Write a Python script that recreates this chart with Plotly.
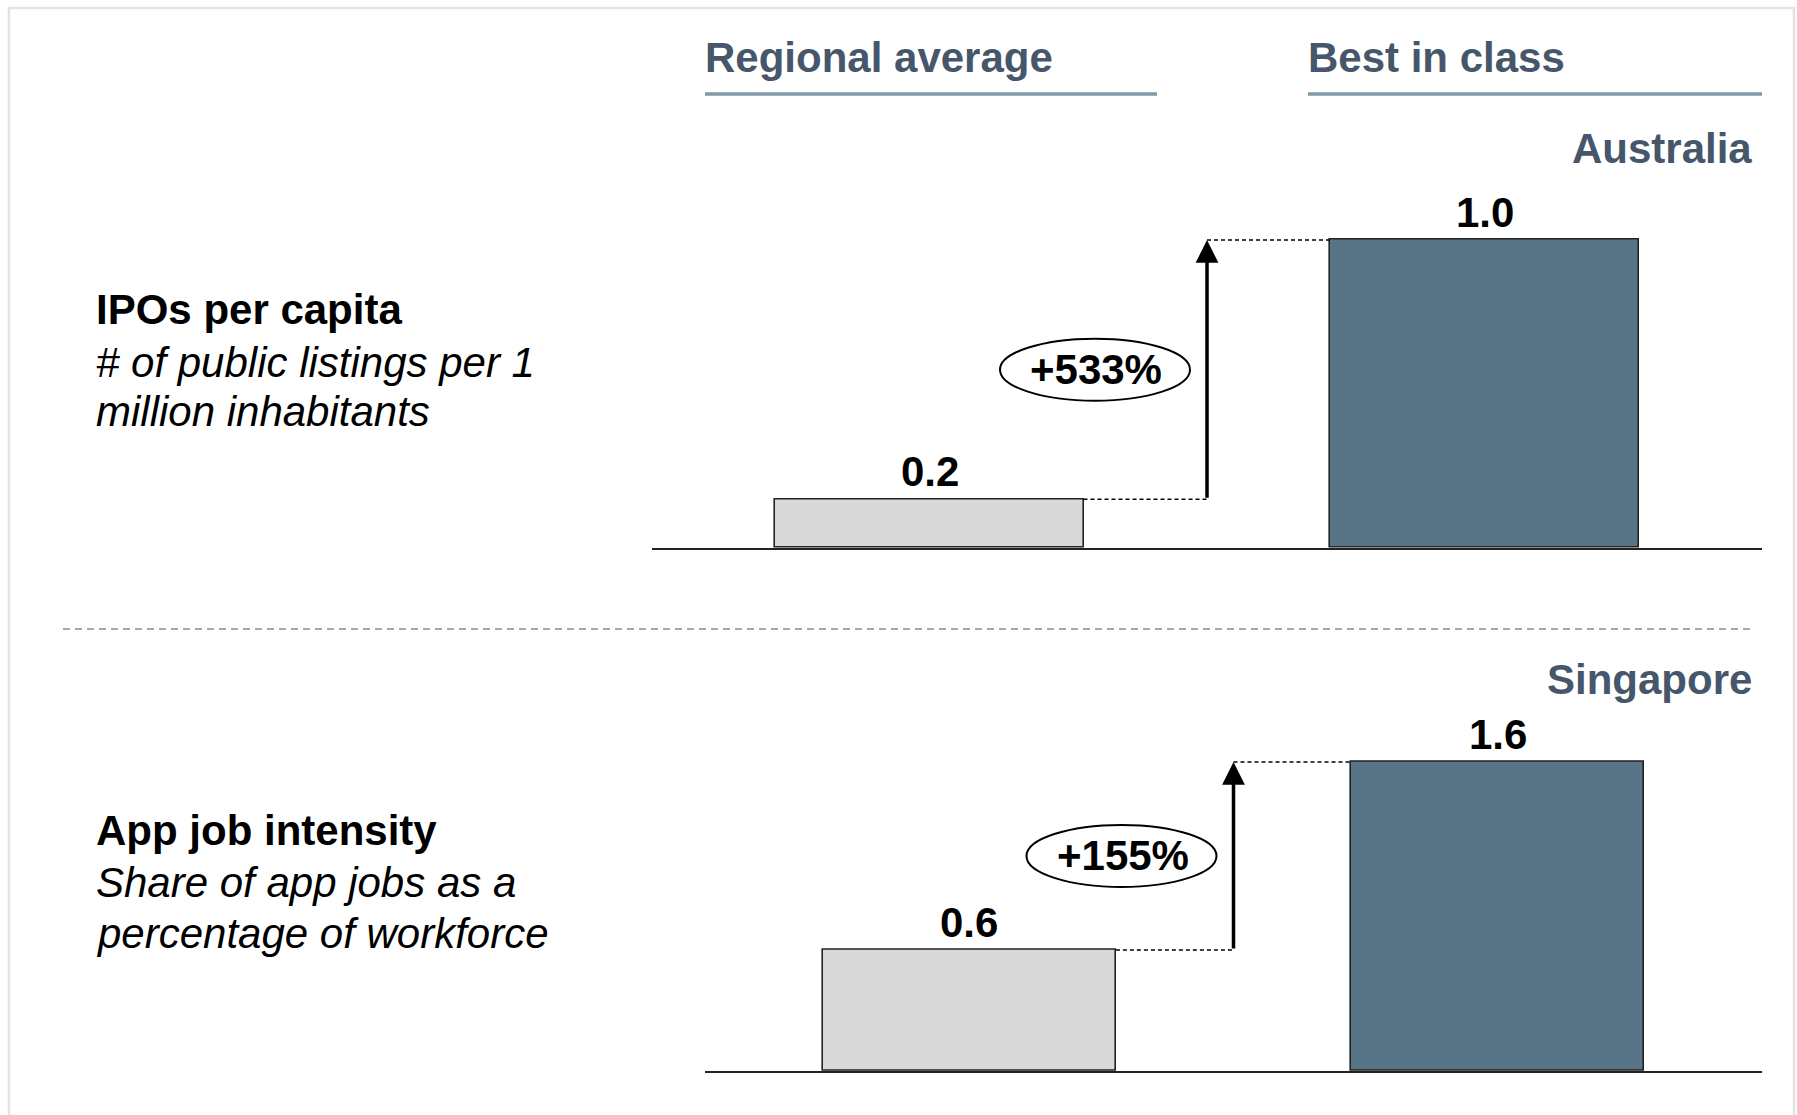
import plotly.graph_objects as go

# ---------------- data ----------------
columns = ["Regional average", "Best in class"]
metrics = ["IPOs per capita", "App job intensity"]
metric_notes = [["# of public listings per 1", "million inhabitants"],
                ["Share of app jobs as a", "percentage of workforce"]]
best_countries = ["Australia", "Singapore"]
regional_values = [0.158, 0.627]
best_values = [1.0, 1.6]
increase_labels = ["+533%", "+155%"]

# ---------------- styles ----------------
FONT = "Liberation Sans, Arial, sans-serif"
HEAD_COLOR = "#46566B"
RULE_COLOR = "#7F99A8"
BAR_COLORS = ["#D9D9D9", "#587487"]
FS = 42
W, H = 1797, 1115

fig = go.Figure()

panels = [
    dict(xa="x", ya="y", xdom=[652 / W, 1762 / W], base=548, ppu=308, yr=[0, 1.3]),
    dict(xa="x2", ya="y2", xdom=[705 / W, 1762 / W], base=1071, ppu=193.1, yr=[0, 2.0]),
]

bar_w = 0.555
xs = list(range(len(columns)))
annotations = []
shapes = []

for i, p in enumerate(panels):
    vals = [regional_values[i], best_values[i]]
    fig.add_trace(go.Bar(
        x=xs, y=vals, width=bar_w, xaxis=p["xa"], yaxis=p["ya"],
        marker=dict(color=BAR_COLORS, line=dict(color="#222222", width=1.6)),
        hoverinfo="skip", showlegend=False,
    ))
    xr, yr = p["xa"], p["ya"]
    # value labels
    for xi, v in zip(xs, vals):
        annotations.append(dict(
            x=xi, y=v, xref=xr, yref=yr, text=f"<b>{v:.1f}</b>", showarrow=False,
            yanchor="bottom", yshift=2, font=dict(family=FONT, size=FS, color="#000000")))
    ax_x = 0.5
    mid = (vals[0] + vals[1]) / 2
    # arrow
    annotations.append(dict(
        x=ax_x, y=vals[1], ax=ax_x, ay=vals[0], xref=xr, yref=yr, axref=xr, ayref=yr,
        text="", showarrow=True, arrowhead=2, arrowsize=1.3, arrowwidth=3.5,
        arrowcolor="#000000", standoff=0, startstandoff=0))
    # dotted connectors
    shapes.append(dict(type="line", xref=xr, yref=yr, x0=xs[0] + bar_w / 2, x1=ax_x,
                       y0=vals[0], y1=vals[0], line=dict(color="#000000", width=1.5, dash="4px,3px")))
    shapes.append(dict(type="line", xref=xr, yref=yr, x0=ax_x, x1=xs[1] - bar_w / 2,
                       y0=vals[1], y1=vals[1], line=dict(color="#000000", width=1.5, dash="4px,3px")))
    # ellipse with percentage
    shapes.append(dict(type="circle", xref=xr, yref=yr, xsizemode="pixel", xanchor=ax_x,
                       x0=-207, x1=-17, ysizemode="pixel", yanchor=mid, y0=-31, y1=31,
                       line=dict(color="#000000", width=2), fillcolor="#FFFFFF", layer="above"))
    annotations.append(dict(
        x=ax_x, y=mid, xref=xr, yref=yr, xshift=-111, text=f"<b>{increase_labels[i]}</b>",
        showarrow=False, font=dict(family=FONT, size=FS, color="#000000")))

# country labels
for name, yc in zip(best_countries, [149, 679]):
    annotations.append(dict(
        x=1754 / W, y=1 - yc / H, xref="paper", yref="paper", xanchor="right", yanchor="middle",
        text=f"<b>{name}</b>", showarrow=False, font=dict(family=FONT, size=FS, color=HEAD_COLOR)))

# column headers + rules
for name, x0, x1 in zip(columns, [703, 1306], [1157, 1762]):
    annotations.append(dict(
        x=x0 / W, y=1 - 58 / H, xref="paper", yref="paper", xanchor="left", yanchor="middle",
        text=f"<b>{name}</b>", showarrow=False, font=dict(family=FONT, size=FS, color=HEAD_COLOR)))
    shapes.append(dict(type="line", xref="paper", yref="paper", x0=(x0 + 2) / W, x1=x1 / W,
                       y0=1 - 94 / H, y1=1 - 94 / H, line=dict(color=RULE_COLOR, width=3.5)))

# metric labels
for m, notes, ys in zip(metrics, metric_notes, [[309, 362, 411], [830, 882, 933]]):
    annotations.append(dict(
        x=94 / W, y=1 - ys[0] / H, xref="paper", yref="paper", xanchor="left", yanchor="middle",
        text=f"<b>{m}</b>", showarrow=False, font=dict(family=FONT, size=FS, color="#000000")))
    for note, yy in zip(notes, ys[1:]):
        annotations.append(dict(
            x=94 / W, y=1 - yy / H, xref="paper", yref="paper", xanchor="left", yanchor="middle",
            text=f"<i>{note}</i>", showarrow=False, font=dict(family=FONT, size=FS, color="#000000")))

# separator and frame
shapes.append(dict(type="line", xref="paper", yref="paper", x0=63 / W, x1=1751 / W,
                   y0=1 - 629 / H, y1=1 - 629 / H, line=dict(color="#9AABBA", width=2, dash="7px,5px")))
shapes.append(dict(type="rect", xref="paper", yref="paper", x0=9 / W, x1=1794 / W,
                   y0=-0.05, y1=1 - 8 / H, line=dict(color="#E3E3E3", width=2.5), layer="below"))

axis_common = dict(showgrid=False, zeroline=False, showticklabels=False, ticks="",
                   fixedrange=True)
layout_axes = {}
for i, p in enumerate(panels):
    sfx = "" if i == 0 else str(i + 1)
    bottom = 1 - p["base"] / H
    top = bottom + (p["yr"][1] - p["yr"][0]) * p["ppu"] / H
    layout_axes["xaxis" + sfx] = dict(domain=p["xdom"], range=[-0.5, 1.5], anchor="y" + sfx,
                                      showline=True, linecolor="#222222", linewidth=2,
                                      **axis_common)
    layout_axes["yaxis" + sfx] = dict(domain=[bottom, top], range=p["yr"], anchor="x" + sfx,
                                      showline=False, **axis_common)

fig.update_layout(
    width=W, height=H, margin=dict(l=0, r=0, t=0, b=0),
    paper_bgcolor="#FFFFFF", plot_bgcolor="rgba(0,0,0,0)",
    annotations=annotations, shapes=shapes, bargap=0,
    font=dict(family=FONT), **layout_axes,
)

fig.write_html("out.html")
